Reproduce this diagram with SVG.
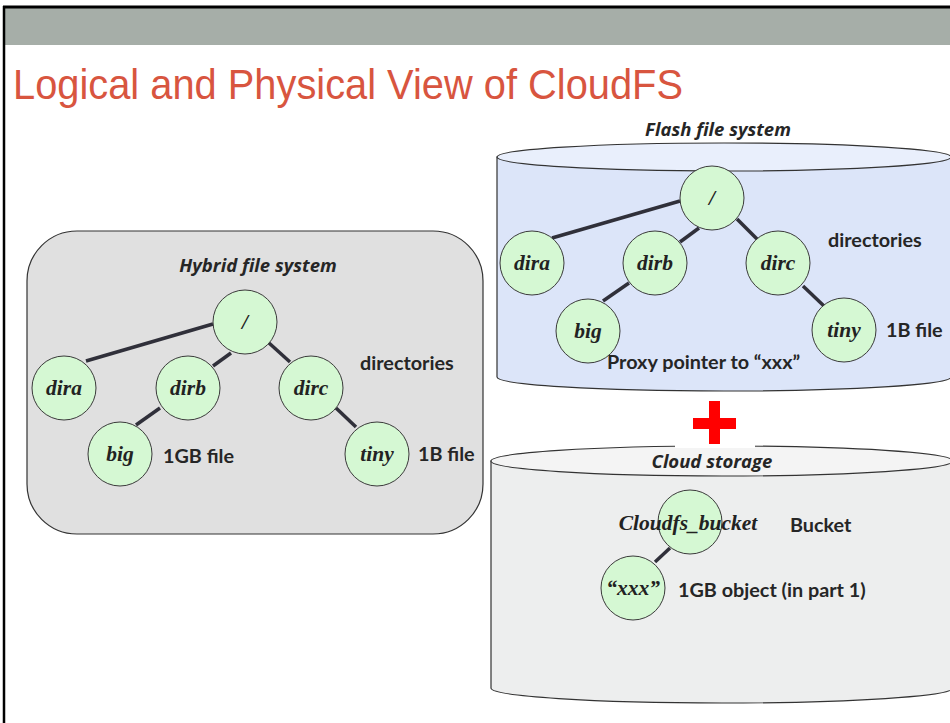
<svg xmlns="http://www.w3.org/2000/svg" width="950" height="723" viewBox="0 0 950 723">
<style>
.node{fill:#D5F8D3;stroke:#3a3a3a;stroke-width:1}
.nl{font-family:"Liberation Serif",serif;font-weight:bold;font-style:italic;font-size:21.5px;fill:#222;text-anchor:middle}
.lbl{font-family:Lato,"Open Sans",sans-serif;font-weight:bold;font-size:19.8px;fill:#262626}
.ttl{font-family:"Open Sans","Liberation Sans",sans-serif;font-weight:bold;font-style:italic;font-size:18.5px;fill:#262626;text-anchor:middle}
.edge{stroke:#30303a;stroke-width:3.5;fill:none}
.cyl{stroke:#333;stroke-width:1.2}
</style>
<rect x="0" y="0" width="950" height="723" fill="#fff"/>
<rect x="4" y="8" width="946" height="37" fill="#A6AEA8"/>
<line x1="3" y1="7" x2="950" y2="7" stroke="#000" stroke-width="3"/>
<line x1="4" y1="6" x2="4" y2="723" stroke="#000" stroke-width="2.5"/>
<text x="13" y="99" font-family="Liberation Sans,Arial,sans-serif" font-size="43" fill="#D8553F" textLength="670" lengthAdjust="spacingAndGlyphs">Logical and Physical View of CloudFS</text>

<!-- Hybrid file system -->
<g id="hybrid">
<rect x="27" y="231" width="456" height="303" rx="50" ry="50" fill="#E0E0E0" stroke="#333" stroke-width="1.2"/>
<text class="ttl" x="258" y="272">Hybrid file system</text>
<text class="lbl" x="360" y="370">directories</text>
<text class="lbl" x="163" y="463">1GB file</text>
<text class="lbl" x="418" y="461">1B file</text>
</g>
<g id="connectors">
<line class="edge" x1="213" y1="324" x2="86" y2="361"/>
<line class="edge" x1="231" y1="353" x2="213" y2="366"/>
<line class="edge" x1="269" y1="343" x2="290" y2="362"/>
<line class="edge" x1="160" y1="408" x2="136" y2="425"/>
<line class="edge" x1="336" y1="408" x2="356" y2="427"/>
</g>
<g id="h-root"><circle class="node" cx="245" cy="322" r="32"/><text class="nl" x="245" y="329">/</text></g>
<g id="h-dira"><circle class="node" cx="64" cy="388" r="32"/><text class="nl" x="64" y="395">dira</text></g>
<g id="h-dirb"><circle class="node" cx="188" cy="388" r="32"/><text class="nl" x="188" y="395">dirb</text></g>
<g id="h-dirc"><circle class="node" cx="311" cy="388" r="32"/><text class="nl" x="311" y="395">dirc</text></g>
<g id="h-big"><circle class="node" cx="120" cy="454" r="32"/><text class="nl" x="120" y="461">big</text></g>
<g id="h-tiny"><circle class="node" cx="377" cy="454" r="32"/><text class="nl" x="377" y="461">tiny</text></g>

<!-- Flash file system -->
<g id="flash">
<path class="cyl" d="M497,157 L497,377 A227,14 0 0 0 951,377 L951,157 Z" fill="#DCE5F9"/>
<ellipse class="cyl" cx="724" cy="157" rx="227" ry="14" fill="#E9EFFC"/>
<text class="ttl" x="718" y="136">Flash file system</text>
<text class="lbl" x="828" y="247">directories</text>
<text class="lbl" x="886" y="337">1B file</text>
<text class="lbl" x="607" y="369">Proxy pointer to “xxx”</text>
</g>
<g id="flash-connectors">
<line class="edge" x1="680" y1="201" x2="552" y2="238"/>
<line class="edge" x1="699" y1="228" x2="680" y2="242"/>
<line class="edge" x1="737" y1="219" x2="757" y2="239"/>
<line class="edge" x1="629" y1="283" x2="603" y2="301"/>
<line class="edge" x1="803" y1="286" x2="824" y2="306"/>
</g>
<g id="f-root"><circle class="node" cx="712" cy="198" r="32"/><text class="nl" x="712" y="205">/</text></g>
<g id="f-dira"><circle class="node" cx="532" cy="263" r="32"/><text class="nl" x="532" y="270">dira</text></g>
<g id="f-dirb"><circle class="node" cx="655" cy="263" r="32"/><text class="nl" x="655" y="270">dirb</text></g>
<g id="f-dirc"><circle class="node" cx="778" cy="263" r="32"/><text class="nl" x="778" y="270">dirc</text></g>
<g id="f-big"><circle class="node" cx="588" cy="331" r="32"/><text class="nl" x="588" y="338">big</text></g>
<g id="f-tiny"><circle class="node" cx="844" cy="330" r="32"/><text class="nl" x="844" y="337">tiny</text></g>

<!-- plus -->
<g id="plus" fill="#FF0000">
<rect x="709" y="401" width="11" height="43"/>
<rect x="693" y="418" width="43" height="11"/>
</g>

<!-- Cloud storage -->
<g id="cloud">
<path class="cyl" d="M491,461 L491,688 A231,15 0 0 0 953,688 L953,461 Z" fill="#EDEEEE"/>
<ellipse class="cyl" cx="722" cy="461" rx="231" ry="15" fill="#F4F4F4"/>
<rect x="675" y="444" width="80" height="4" fill="#fff"/>
<text class="ttl" x="712" y="468">Cloud storage</text>
<text class="lbl" x="790" y="532">Bucket</text>
<text class="lbl" x="678" y="597">1GB object (in part 1)</text>
</g>
<g id="cloud-connectors">
<line class="edge" x1="670" y1="548" x2="655" y2="562"/>
</g>
<g id="c-bucket"><circle class="node" cx="690" cy="522" r="32"/><text class="nl" x="688" y="530">Cloudfs_bucket</text></g>
<g id="c-xxx"><circle class="node" cx="633" cy="588" r="32"/><text class="nl" x="633" y="595">“xxx”</text></g>
</svg>
